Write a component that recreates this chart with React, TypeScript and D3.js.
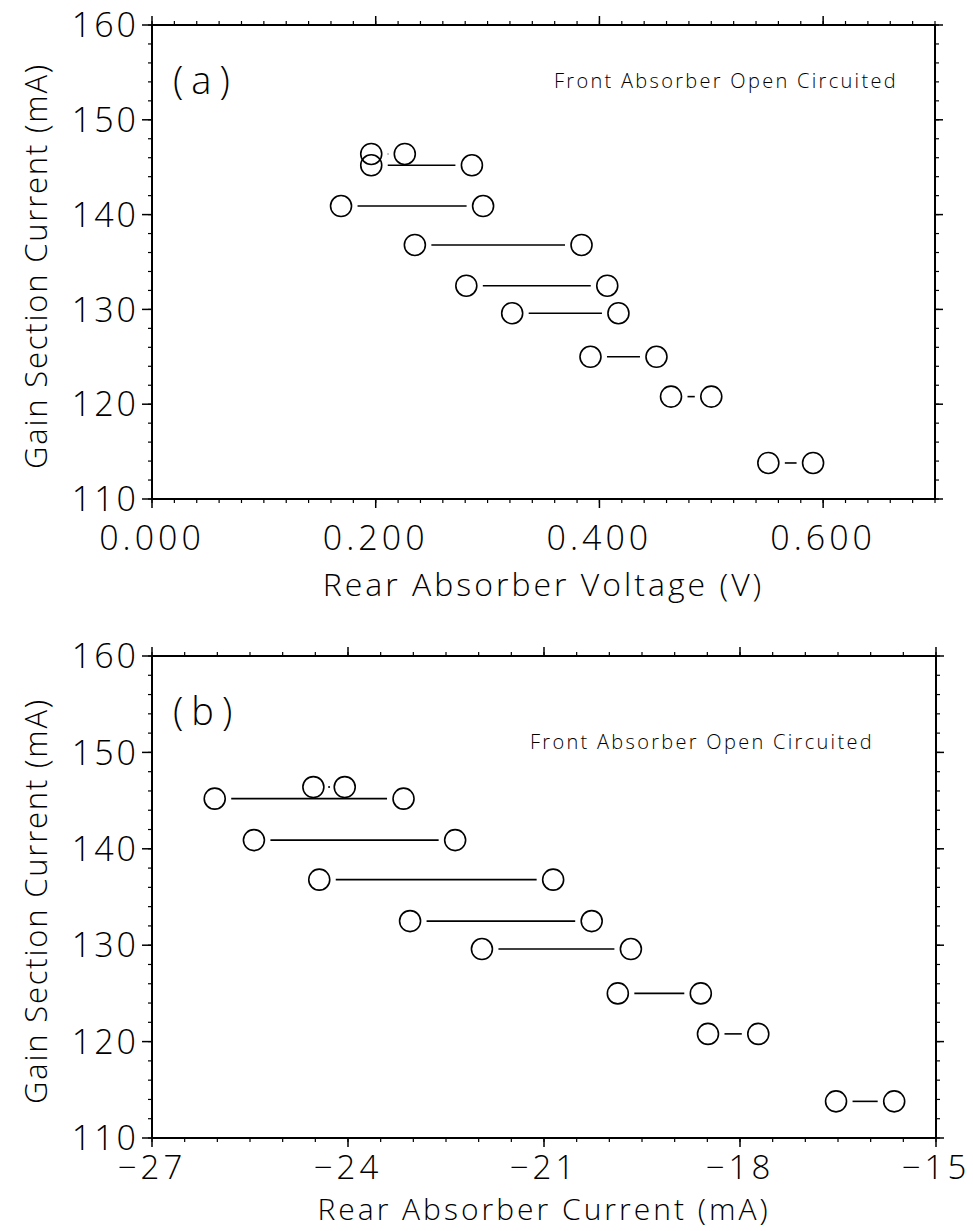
import React from 'react';
import * as d3 from 'd3';

// Gain section current (mA) for each pair of points (shared by both panels)
const gainCurrent = [146.4, 145.2, 140.9, 136.8, 132.5, 129.6, 125.0, 120.8, 113.8];
// Panel (a): rear absorber voltage (V) at both ends of each bistable range
const voltageLow = [0.196, 0.196, 0.169, 0.235, 0.281, 0.322, 0.392, 0.464, 0.551];
const voltageHigh = [0.226, 0.286, 0.296, 0.384, 0.407, 0.417, 0.451, 0.5, 0.591];
// Panel (b): rear absorber current (mA) at both ends
const currentLow = [-24.53, -26.04, -25.44, -24.44, -23.05, -21.95, -19.87, -18.49, -16.53];
const currentHigh = [-24.05, -23.15, -22.36, -20.86, -20.27, -19.67, -18.6, -17.72, -15.64];

const yTicks = [110, 120, 130, 140, 150, 160];
const xTicksA = [0, 0.2, 0.4, 0.6];
const xTicksB = [-27, -24, -21, -18, -15];

const FONT = "'Open Sans', 'Liberation Sans', sans-serif";

type PanelProps = {
  x0: number; x1: number; y0: number; y1: number;
  xDomain: [number, number];
  xTicks: number[];
  xMinorStep: number;
  xFormat: (v: number) => string;
  lows: number[]; highs: number[];
  label: string;
  labelPos: [number, number];
  note: string;
  notePos: [number, number];
  xTitle: string;
  xTitleY: number;
  xTitleSize: number;
  xLabelY: number;
  xLabelSize: number;
};

function Panel(p: PanelProps) {
  const x = d3.scaleLinear().domain(p.xDomain).range([p.x0, p.x1]);
  const y = d3.scaleLinear().domain([110, 160]).range([p.y1, p.y0]);
  const xMinor = d3.range(p.xDomain[0], p.xDomain[1] + p.xMinorStep / 2, p.xMinorStep);
  const yMinor = d3.range(110, 160.5, 2);
  const r = 10.5;
  const gap = 6;
  const sw = 1.6;
  return (
    <g>
      <rect x={p.x0} y={p.y0} width={p.x1 - p.x0} height={p.y1 - p.y0} fill="none" stroke="#000" strokeWidth={2} />
      {xMinor.map((v, i) => (
        <g key={'xm' + i}>
          <line x1={x(v)} x2={x(v)} y1={p.y1} y2={p.y1 + 4} stroke="#000" strokeWidth={1.2} />
          <line x1={x(v)} x2={x(v)} y1={p.y0} y2={p.y0 - 4} stroke="#000" strokeWidth={1.2} />
        </g>
      ))}
      {p.xTicks.map((v, i) => (
        <g key={'xt' + i}>
          <line x1={x(v)} x2={x(v)} y1={p.y1} y2={p.y1 + 9} stroke="#000" strokeWidth={1.5} />
          <line x1={x(v)} x2={x(v)} y1={p.y0} y2={p.y0 - 9} stroke="#000" strokeWidth={1.5} />
          <text x={x(v)} y={p.xLabelY} textAnchor="middle" fontSize={p.xLabelSize} fontWeight={300}
            letterSpacing={4} fontFamily={FONT} fill="#000">{p.xFormat(v)}</text>
        </g>
      ))}
      {yMinor.map((v, i) => (
        <g key={'ym' + i}>
          <line x1={p.x0} x2={p.x0 - 4} y1={y(v)} y2={y(v)} stroke="#000" strokeWidth={1.2} />
          <line x1={p.x1} x2={p.x1 + 4} y1={y(v)} y2={y(v)} stroke="#000" strokeWidth={1.2} />
        </g>
      ))}
      {yTicks.map((v, i) => (
        <g key={'yt' + i}>
          <line x1={p.x0} x2={p.x0 - 10} y1={y(v)} y2={y(v)} stroke="#000" strokeWidth={1.5} />
          <line x1={p.x1} x2={p.x1 + 8} y1={y(v)} y2={y(v)} stroke="#000" strokeWidth={1.5} />
          <text x={139} y={y(v)} dy="0.36em" textAnchor="end" fontSize={34} fontWeight={300}
            letterSpacing={3} fontFamily={FONT} fill="#000">{String(v)}</text>
        </g>
      ))}
      {gainCurrent.map((g, i) => {
        const xa = x(p.lows[i]);
        const xb = x(p.highs[i]);
        const la = xa + r + gap;
        const lb = xb - r - gap;
        return (
          <g key={'pt' + i}>
            {lb > la && <line x1={la} x2={lb} y1={y(g)} y2={y(g)} stroke="#000" strokeWidth={sw} />}
            {lb <= la && <circle cx={(xa + xb) / 2} cy={y(g)} r={1} fill="#000" />}
            <ellipse cx={xa} cy={y(g)} rx={r} ry={r} fill="none" stroke="#000" strokeWidth={sw} />
            <ellipse cx={xb} cy={y(g)} rx={r} ry={r} fill="none" stroke="#000" strokeWidth={sw} />
          </g>
        );
      })}
      <text x={p.labelPos[0]} y={p.labelPos[1]} fontSize={38} fontWeight={300} letterSpacing={8}
        fontFamily={FONT} fill="#000">{p.label}</text>
      <text x={p.notePos[0]} y={p.notePos[1]} fontSize={20} fontWeight={300} letterSpacing={2.3}
        fontFamily={FONT} fill="#000">{p.note}</text>
      <text x={(p.x0 + p.x1) / 2} y={p.xTitleY} textAnchor="middle" fontSize={p.xTitleSize} fontWeight={300}
        letterSpacing={3} fontFamily={FONT} fill="#000">{p.xTitle}</text>
      <text transform={`translate(47,${(p.y0 + p.y1) / 2 + 4}) rotate(-90)`} textAnchor="middle" fontSize={31}
        fontWeight={300} letterSpacing={1.8} fontFamily={FONT} fill="#000">Gain Section Current (mA)</text>
    </g>
  );
}

export default function App() {
  const fmtA = d3.format('.3f');
  const fmtB = d3.format('d');
  return (
    <div style={{ position: 'absolute', left: 0, top: 0 }}>
      <svg width={973} height={1231} style={{ display: 'block', background: '#fff' }}>
        <Panel x0={152} x1={935} y0={25} y1={499} xDomain={[0, 0.7]} xTicks={xTicksA} xMinorStep={0.02}
          xFormat={fmtA} lows={voltageLow} highs={voltageHigh} label="(a)" labelPos={[173, 94]}
          note="Front Absorber Open Circuited" notePos={[554, 88]} xTitle="Rear Absorber Voltage (V)"
          xTitleY={596} xTitleSize={32} xLabelY={550} xLabelSize={34} />
        <Panel x0={152} x1={936} y0={656} y1={1138} xDomain={[-27, -15]} xTicks={xTicksB} xMinorStep={0.5}
          xFormat={fmtB} lows={currentLow} highs={currentHigh} label="(b)" labelPos={[173, 725]}
          note="Front Absorber Open Circuited" notePos={[530, 749]} xTitle="Rear Absorber Current (mA)"
          xTitleY={1220} xTitleSize={30} xLabelY={1179} xLabelSize={33} />
      </svg>
    </div>
  );
}
